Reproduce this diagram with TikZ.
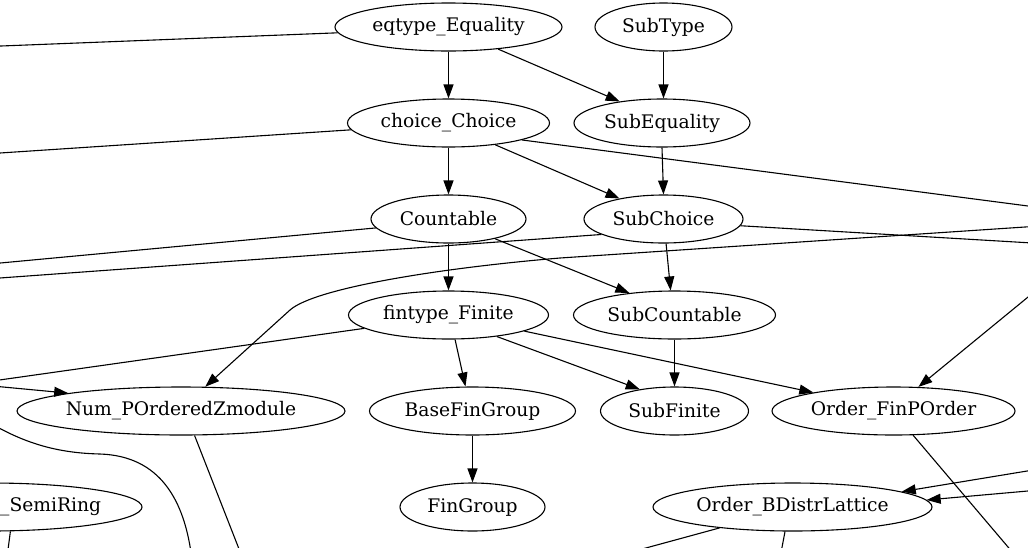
\documentclass[tikz,border=0pt]{standalone}
\usepackage{fontspec}
\setmainfont{DejaVu Serif}
\usetikzlibrary{shapes.geometric,arrows.meta}
\begin{document}
\begin{tikzpicture}[x=1pt,y=-1pt,
  lbl/.style={font=\fontsize{18.7pt}{22pt}\selectfont},
  nd/.style={draw, ellipse, line width=1.1pt, inner sep=0pt, minimum height=48pt, lbl},
  ed/.style={line width=1.1pt},
  arr/.style={ed, -{Triangle[length=14pt,width=10pt]}}]
\useasboundingbox (0,0) rectangle (1028,547);
\clip (0,0) rectangle (1028,547);
% nodes
\node[nd, minimum width=227pt] (eq) at (448.5,27) {eqtype\_Equality};
\node[nd, minimum width=137pt] (subtype) at (663.5,27) {SubType};
\node[nd, minimum width=202pt] (choice) at (448.5,123) {choice\_Choice};
\node[nd, minimum width=176pt] (subeq) at (662,123) {SubEquality};
\node[nd, minimum width=155pt] (countable) at (448.5,219) {Countable};
\node[nd, minimum width=159pt] (subchoice) at (663.5,219) {SubChoice};
\node[nd, minimum width=200pt] (fintype) at (448.5,315) {fintype\_Finite};
\node[nd, minimum width=202pt] (subcount) at (674.5,315) {SubCountable};
\node[nd, minimum width=328pt] (numpoz) at (181,411) {Num\_POrderedZmodule};
\node[nd, minimum width=206pt] (basefin) at (472.5,411) {BaseFinGroup};
\node[nd, minimum width=148pt] (subfinite) at (674.5,411) {SubFinite};
\node[nd, minimum width=243pt] (finporder) at (893.5,411) {Order\_FinPOrder};
\node[nd, minimum width=304pt] (semiring) at (-10,507) {};
\node[lbl, anchor=west, inner sep=0pt] (semiringlabel) at (0,507) {\_SemiRing};
\node[nd, minimum width=145pt] (fingroup) at (472.5,507) {FinGroup};
\node[nd, minimum width=279pt] (bdistr) at (792.5,507) {Order\_BDistrLattice};
% off-picture ends
\coordinate (eqL) at (-50,48);
\coordinate (choiceL) at (-50,156.3);
\coordinate (choiceR) at (1100,215.4);
\coordinate (countL) at (-50,267.7);
\coordinate (subchoiceR) at (1100,247);
\coordinate (subchoiceL) at (-50,281.6);
\coordinate (numpozR) at (1100,222);
\coordinate (finporderR) at (1100,238);
\coordinate (fintypeL) at (-50,387);
\coordinate (numpozL) at (-50,382);
\coordinate (finporderD) at (1053,600);
\coordinate (bdistrR1) at (1100,459);
\coordinate (bdistrR2) at (1100,484.6);
\coordinate (bdistrD1) at (455,600);
\coordinate (bdistrD2) at (772,600);
\coordinate (numpozD) at (259,600);
\coordinate (curveL) at (-30,410);
\coordinate (curveD) at (192,560);
\coordinate (semiringD) at (1.4,600);
% edges
\draw[arr] (eq) -- (choice);
\draw[arr] (eq.-24) -- (subeq.153);
\draw[arr] (subtype.south) -- (subtype.south |- subeq.north);
\draw[ed] (eq.183) -- (eqL);
\draw[ed] (choice.184) -- (choiceL);
\draw[arr] (choice) -- (countable);
\draw[arr] (choice.-25) -- (subchoice.155);
\draw[ed] (choice.-13) -- (choiceR);
\draw[arr] (subeq.south) -- (subchoice.north);
\draw[ed] (countable.187) -- (countL);
\draw[arr] (countable) -- (fintype);
\draw[arr] (countable.-23) -- (subcount.154);
\draw[arr] (subchoice.-84) -- (subcount.99.5);
\draw[ed] (subchoice.-5) -- (subchoiceR);
\draw[ed] (subchoice.194) -- (subchoiceL);
\draw[arr] (numpozR) -- (560,258) .. controls (440,268) and (315,288) .. (290,310) -- (numpoz.45);
\draw[arr] (finporderR) -- (finporder.44);
\draw[ed] (fintype.189.5) -- (fintypeL);
\draw[arr] (numpozL) -- (numpoz.171.4);
\draw[arr] (fintype.-75) -- (basefin.106);
\draw[arr] (fintype.-24.4) -- (subfinite.148);
\draw[arr] (fintype.-12.9) -- (finporder.167.4);
\draw[arr] (subcount) -- (subfinite);
\draw[arr] (basefin) -- (fingroup);
\draw[ed] (finporder.-51) -- (finporderD);
\draw[arr] (bdistrR1) -- (bdistr.8.1);
\draw[arr] (bdistrR2) -- (bdistr.3.9);
\draw[ed] (bdistr.196.2) -- (bdistrD1);
\draw[ed] (bdistr.-107) -- (bdistrD2);
\draw[ed] (numpoz.-61.6) -- (numpozD);
\draw[ed] (curveL) .. controls (20,445) and (60,453) .. (100,454) .. controls (160,456) and (185,500) .. (curveD);
\draw[ed] (semiring.-50) -- (semiringD);
\end{tikzpicture}
\end{document}
